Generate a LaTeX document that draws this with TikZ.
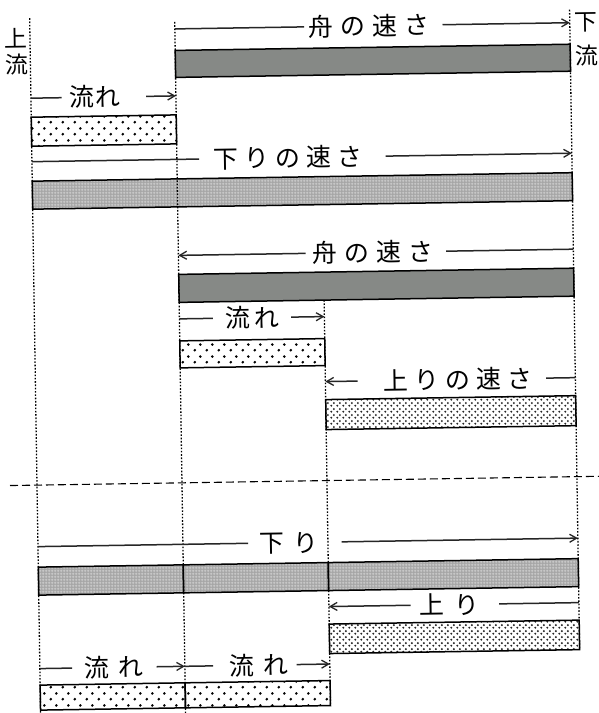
\documentclass[tikz,border=0pt]{standalone}
\usepackage{fontspec}
\newfontfamily\jpfont{Noto Sans CJK JP}
\usetikzlibrary{arrows.meta,patterns}
\definecolor{barGray}{RGB}{134,137,134}
\pgfdeclarepatternformonly{sparsedots}{\pgfqpoint{0pt}{0pt}}{\pgfqpoint{12pt}{12pt}}{\pgfqpoint{12pt}{12pt}}{%
  \pgfpathcircle{\pgfqpoint{3pt}{3pt}}{1.5pt}\pgfpathcircle{\pgfqpoint{9pt}{9pt}}{1.5pt}\pgfusepath{fill}}
\pgfdeclarepatternformonly{densedots}{\pgfqpoint{0pt}{0pt}}{\pgfqpoint{6pt}{6pt}}{\pgfqpoint{6pt}{6pt}}{%
  \pgfpathcircle{\pgfqpoint{1.5pt}{1.5pt}}{1.25pt}\pgfpathcircle{\pgfqpoint{4.5pt}{4.5pt}}{1.25pt}\pgfusepath{fill}}
\pgfdeclarepatternformonly{finegrid}{\pgfqpoint{0pt}{0pt}}{\pgfqpoint{3pt}{3pt}}{\pgfqpoint{3pt}{3pt}}{%
  \pgfsetlinewidth{0.6pt}\pgfpathmoveto{\pgfqpoint{0pt}{1.5pt}}\pgfpathlineto{\pgfqpoint{3pt}{1.5pt}}%
  \pgfpathmoveto{\pgfqpoint{1.5pt}{0pt}}\pgfpathlineto{\pgfqpoint{1.5pt}{3pt}}\pgfusepath{stroke}}
\newcommand{\jg}[1]{\hspace{#1pt}}
\begin{document}
\begin{tikzpicture}[x=1pt,y=-1pt,
  bar/.style={draw=black, line width=1.5pt},
  darkbar/.style={bar, fill=barGray},
  flowbar/.style={bar, pattern=sparsedots, pattern color=black},
  downbar/.style={bar, preaction={fill=gray!70}, pattern=finegrid, pattern color=gray!30},
  upbar/.style={bar, preaction={fill=white}, pattern=densedots, pattern color=black!85},
  guide/.style={line width=1.3pt, dash pattern=on 1.6pt off 1.7pt},
  sepline/.style={line width=1.1pt, dash pattern=on 8pt off 4pt},
  conn/.style={line width=1.5pt, draw=black!85},
  arr/.style={conn, -{Straight Barb[length=7pt,width=8pt,line width=1.3pt]}},
  lbl/.style={font=\jpfont\fontsize{25pt}{27pt}\selectfont, inner sep=0pt, text height=20.5pt, text depth=1.7pt},
  side/.style={font=\jpfont\fontsize{23pt}{25pt}\selectfont, inner sep=0pt, text height=18.9pt, text depth=1.6pt}]
\useasboundingbox (0,0) rectangle (598,713);
\fill[white] (0,0) rectangle (598,713);
\begin{scope}[rotate around={0.9:(299,356)}, transform shape]
% ---- bars ----
\draw[darkbar] (180,48.5) rectangle (575,75.5);
\draw[flowbar] (35,113) rectangle (180,142);
\draw[downbar] (35,177) rectangle (575,205);
\draw[darkbar] (180,272.5) rectangle (575,300.5);
\draw[flowbar] (180,339) rectangle (325,366);
\draw[upbar] (325,400) rectangle (575,430);
\draw[downbar] (35,563) rectangle (180,591);
\draw[downbar] (180,563) rectangle (325,591);
\draw[downbar] (325,563) rectangle (575,591);
\draw[upbar] (325,624.5) rectangle (575,654);
\draw[flowbar] (35,681) rectangle (180,706);
\draw[flowbar] (180,681) rectangle (325,706);
% ---- guide lines ----
\coordinate (Ltop) at (35,14);  \coordinate (Lbot) at (35,725);
\coordinate (Atop) at (180,20); \coordinate (Abot) at (180,725);
\coordinate (Btop) at (325,300.5); \coordinate (Bbot) at (325,706);
\coordinate (Rtop) at (575,14); \coordinate (Rbot) at (575,654);
\draw[guide] (Ltop) -- (Lbot);
\draw[guide] (Atop) -- (Abot);
\draw[guide] (Btop) -- (Bbot);
\draw[guide] (Rtop) -- (Rbot);
\coordinate (sepL) at (8,481); \coordinate (sepR) at (610,481);
\draw[sepline] (sepL) -- (sepR);
% ---- side labels ----
\node[side] (ul1) at (21,34) {上};
\node[side] (ul2) at (21,60) {流};
\node[side] (dr1) at (591,26) {下};
\node[side] (dr2) at (592,60) {流};
% ---- labels ----
\node[lbl] (t1) at (374,27) {舟\jg{7}の\jg{7}速\jg{7}さ};
\node[lbl] (t2) at (98.5,94) {流\jg{1}れ};
\node[lbl] (t3) at (291,157.5) {下\jg{6}り\jg{6}の\jg{6}速\jg{6}さ};
\node[lbl] (t4) at (374,253.5) {舟\jg{7}の\jg{7}速\jg{7}さ};
\node[lbl] (t5) at (252.6,317) {流\jg{4}れ};
\node[lbl] (t6) at (457,382) {上\jg{6}り\jg{6}の\jg{6}速\jg{6}さ};
\node[lbl] (t7) at (286,542.5) {下\jg{9}り};
\node[lbl] (t8) at (445,607) {上\jg{10}り};
\node[lbl] (t9) at (109,664.5) {流\jg{9}れ};
\node[lbl] (t10) at (254,664.5) {流\jg{9}れ};
% ---- connector ends ----
\coordinate (c1a) at (180,27);   \coordinate (c1b) at (575,27);
\coordinate (c2a) at (35,94);    \coordinate (c2b) at (180,94);
\coordinate (c3a) at (35,157.5); \coordinate (c3b) at (575,157.5);
\coordinate (c4a) at (180,253.5);\coordinate (c4b) at (575,253.5);
\coordinate (c5a) at (180,317);  \coordinate (c5b) at (325,317);
\coordinate (c6a) at (325,382);  \coordinate (c6b) at (575,382);
\coordinate (c7a) at (35,542.5); \coordinate (c7b) at (575,542.5);
\coordinate (c8a) at (325,607);  \coordinate (c8b) at (575,607);
\coordinate (c9a) at (35,664.5); \coordinate (c9b) at (180,664.5);
\coordinate (c10a) at (180,664.5); \coordinate (c10b) at (325,664.5);
% ---- connectors ----
\draw[conn] (c1a) -- ([xshift=-4pt]t1.west);
\draw[arr] ([xshift=13pt]t1.east) -- (c1b);
\draw[conn] (c2a) -- ([xshift=-7pt]t2.west);
\draw[arr] ([xshift=26pt]t2.east) -- (c2b);
\draw[conn] (c3a) -- ([xshift=-14pt]t3.west);
\draw[arr] ([xshift=23pt]t3.east) -- (c3b);
\draw[arr] ([xshift=-6pt]t4.west) -- (c4a);
\draw[conn] ([xshift=13pt]t4.east) -- (c4b);
\draw[conn] (c5a) -- ([xshift=-12pt]t5.west);
\draw[arr] ([xshift=12pt]t5.east) -- (c5b);
\draw[arr] ([xshift=-25pt]t6.west) -- (c6a);
\draw[conn] ([xshift=14pt]t6.east) -- (c6b);
\draw[conn] (c7a) -- ([xshift=-11pt]t7.west);
\draw[arr] ([xshift=23pt]t7.east) -- (c7b);
\draw[arr] ([xshift=-8pt]t8.west) -- (c8a);
\draw[conn] ([xshift=20pt]t8.east) -- (c8b);
\draw[conn] (c9a) -- ([xshift=-12pt]t9.west);
\draw[arr] ([xshift=13pt]t9.east) -- (c9b);
\draw[conn] (c10a) -- ([xshift=-16pt]t10.west);
\draw[arr] ([xshift=8pt]t10.east) -- (c10b);
\end{scope}
\end{tikzpicture}
\end{document}
